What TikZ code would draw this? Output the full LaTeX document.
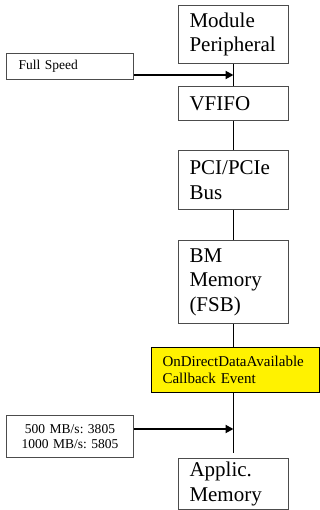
\documentclass[tikz,border=0pt]{standalone}
\usepackage{fontspec}
\setmainfont{Liberation Serif}
\frenchspacing
\usetikzlibrary{arrows.meta}
\tikzset{>=stealth}
\tikzset{
  stage/.style={draw=black!70, line width=1pt, anchor=north west,
    minimum width=110pt, inner xsep=11pt, inner ysep=0pt,
    text width=88pt, align=left, font=\fontsize{21}{24.5}\selectfont},
  event/.style={stage, fill=yellow, draw=black, minimum width=168pt,
    text width=146pt, font=\fontsize{15}{17}\selectfont},
  rate/.style={draw=black!70, line width=1pt, anchor=north west,
    minimum width=127pt, inner ysep=0pt, font=\fontsize{13.5}{15}\selectfont},
  link/.style={line width=1pt},
  feed/.style={line width=2.5pt, -{Triangle[length=8pt,width=8pt]}}
}

\begin{document}
\begin{tikzpicture}[x=1pt,y=-1pt]
    \useasboundingbox (0,0) rectangle (320,510);
    % chain of stages
    \node[stage, minimum height=58pt](mod) at (178,5) {Module\\Peripheral};
    \node[stage, minimum height=34pt](vfifo) at (178,86) {VFIFO};
    \node[stage, minimum height=59pt](pci) at (178,150) {PCI/PCIe\\Bus};
    \node[stage, minimum height=83pt](bm) at (178,240) {BM\\Memory\\(FSB)};
    \node[event, minimum height=45pt](cb) at (151,347) {OnDirectDataAvailable\\Callback Event};
    \node[stage, minimum height=51pt](app) at (178,458) {Applic.\\Memory};
    \draw[link] (mod.south) -- (vfifo.north);
    \draw[link] (vfifo.south) -- (pci.north);
    \draw[link] (pci.south) -- (bm.north);
    \draw[link] (bm.south) -- (cb.north -| bm.south);
    \coordinate (tail) at (bm.south |- 0,453);
    \draw[link] (cb.south -| bm.south) -- (tail);
    % rates
    \node[rate, minimum height=26pt, inner xsep=12pt, align=left, text width=103pt](full) at (6,53) {Full Speed};
    \node[rate, minimum height=42pt, inner xsep=0pt, align=center, text width=127pt](mbs) at (6,415) {500 MB/s: 3805\\1000 MB/s: 5805};
    \coordinate (fsin) at (mod.south |- 0,75);
    \coordinate (mbin) at (mod.south |- 0,429);
    \draw[feed] (full.east |- fsin) -- (fsin);
    \draw[feed] (mbs.east |- mbin) -- (mbin);
\end{tikzpicture}
\end{document}
